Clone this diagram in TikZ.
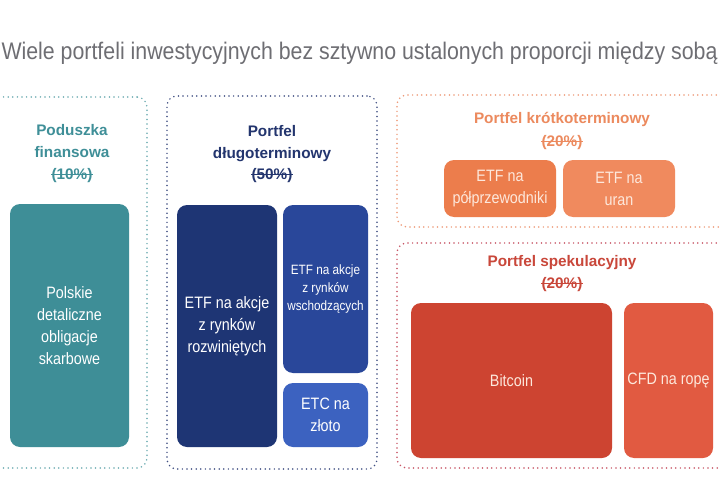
\documentclass[tikz,border=0pt]{standalone}
\usepackage{fontspec}
\usepackage{graphicx}
\setmainfont{Liberation Sans}
\newfontfamily\cond[FakeStretch=0.87]{Liberation Sans}
\definecolor{titlegray}{HTML}{6E6E73}
\definecolor{tealT}{HTML}{3F8F98}
\definecolor{tealF}{HTML}{3E8E97}
\definecolor{tealD}{HTML}{6AAAB0}
\definecolor{navyT}{HTML}{23356E}
\definecolor{navyA}{HTML}{1E3574}
\definecolor{navyB}{HTML}{29479A}
\definecolor{navyC}{HTML}{3C62C0}
\definecolor{navyD}{HTML}{3F4E82}
\definecolor{orT}{HTML}{EC8A5E}
\definecolor{orA}{HTML}{EC7D4C}
\definecolor{orB}{HTML}{F08A5E}
\definecolor{orD}{HTML}{EE9A78}
\definecolor{redT}{HTML}{C9473A}
\definecolor{redA}{HTML}{CD4431}
\definecolor{redB}{HTML}{E15A41}
\definecolor{redD}{HTML}{C85566}
\definecolor{cream}{HTML}{FDE8DC}
\tikzset{
  group/.style={draw=#1, line width=1.7pt, dash pattern=on 0pt off 4.6pt, line cap=round,
    rounded corners=10pt, rectangle, inner sep=0pt},
  asset/.style={fill=#1, rounded corners=10pt, rectangle, inner sep=0pt, align=center,
    text=white, font=\cond\fontsize{16.5}{22}\selectfont},
  gtitle/.style={text=#1, align=center, inner sep=0pt, anchor=base,
    font=\bfseries\fontsize{15.3}{22.5}\selectfont},
  pct/.style={text=#1, inner sep=0pt, anchor=base, font=\bfseries\fontsize{15.3}{18}\selectfont},
  strike/.style={draw=#1, line width=1pt}
}
\begin{document}
\begin{tikzpicture}[x=1pt,y=-1pt]
\useasboundingbox (0,0) rectangle (720,500);
\clip (0,0) rectangle (720,500);
\fill[white] (0,0) rectangle (720,500);

% main title
\node[anchor=base, text=titlegray, inner sep=0pt] (title) at (359.5,60)
  {\resizebox{716pt}{\height}{\cond\fontsize{24}{24}\selectfont Wiele portfeli inwestycyjnych bez sztywno ustalonych proporcji między sobą}};

% group outlines
\node[group=tealD, minimum width=167pt, minimum height=371pt] (g1) at (63.5,282.5) {};
\node[group=navyD, minimum width=210pt, minimum height=373pt] (g2) at (272,282.5) {};
\node[group=orD, minimum width=343pt, minimum height=132pt] (g3) at (568.5,161) {};
\node[group=redD, minimum width=343pt, minimum height=225pt] (g4) at (568.5,355.5) {};

% group titles (base anchor = last line)
\node[gtitle=tealT] (t1) at (72,157.5) {Poduszka\\finansowa};
\node[pct=tealT] (p1) at (72,179) {(10\%)};
\draw[strike=tealT] ([yshift=4.5pt]p1.base west) -- ([yshift=4.5pt]p1.base east);

\node[gtitle=navyT] (t2) at (272,158.5) {Portfel\\długoterminowy};
\node[pct=navyT] (p2) at (272,179) {(50\%)};
\draw[strike=navyT] ([yshift=4.5pt]p2.base west) -- ([yshift=4.5pt]p2.base east);

\node[gtitle=orT] (t3) at (562,123.5) {Portfel krótkoterminowy};
\node[pct=orT] (p3) at (562,146.5) {(20\%)};
\draw[strike=orT] ([yshift=4.5pt]p3.base west) -- ([yshift=4.5pt]p3.base east);

\node[gtitle=redT] (t4) at (562,266.5) {Portfel spekulacyjny};
\node[pct=redT] (p4) at (562,288) {(20\%)};
\draw[strike=redT] ([yshift=4.5pt]p4.base west) -- ([yshift=4.5pt]p4.base east);

% assets
\node[asset=tealF, minimum width=119pt, minimum height=243pt] (bonds) at (69.5,325.5)
  {Polskie\\detaliczne\\obligacje\\skarbowe};

\node[asset=navyA, minimum width=100pt, minimum height=242pt] (dev) at (227,326)
  {ETF na akcje\\z rynków\\rozwiniętych};
\node[asset=navyB, minimum width=85pt, minimum height=168pt,
  font=\cond\fontsize{13.5}{18}\selectfont] (em) at (325.5,289)
  {ETF na akcje\\z rynków\\wschodzących};
\node[asset=navyC, minimum width=85pt, minimum height=64pt] (gold) at (325.5,415)
  {ETC na\\złoto};

\node[asset=orA, minimum width=112pt, minimum height=57pt, text=cream] (semi) at (500,188.5)
  {ETF na\\półprzewodniki};
\node[asset=orB, minimum width=112pt, minimum height=57pt, text=cream] (uran) at (619,188.5)
  {ETF na\\uran};

\node[asset=redA, minimum width=201pt, minimum height=155pt, text=cream] (btc) at (511.5,380.5)
  {Bitcoin};
\node[asset=redB, minimum width=89pt, minimum height=155pt, text=cream] (cfd) at (668.5,380.5)
  {CFD na ropę};
\end{tikzpicture}
\end{document}
